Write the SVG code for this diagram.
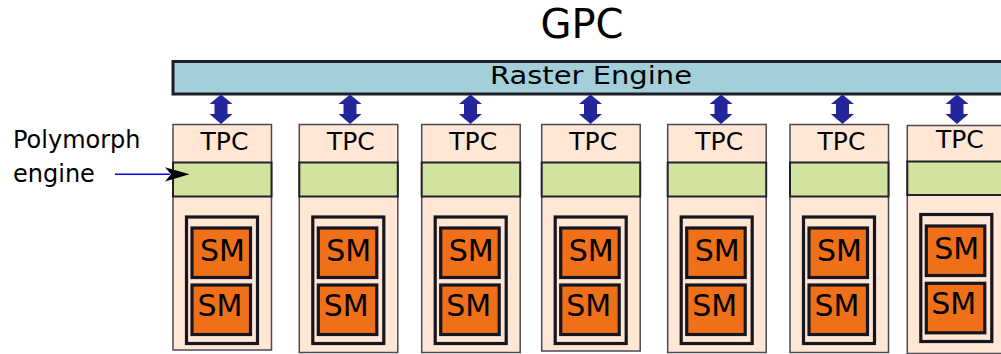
<svg xmlns="http://www.w3.org/2000/svg" xmlns:xlink="http://www.w3.org/1999/xlink" width="1001" height="354" viewBox="0 0 1001 354">
  <style>
    text { font-family: "DejaVu Sans", "Liberation Sans", sans-serif; fill: #000; }
    .title { font-size: 40px; text-anchor: middle; }
    .raster { fill: #a3d0d8; stroke: #1e1e28; stroke-width: 3; }
    .raster-label { font-size: 24px; }
    .tpc { fill: #ffe6d5; stroke: #4a4a56; stroke-width: 1.5; }
    .poly { fill: #d1e39f; stroke: #22222c; stroke-width: 2; }
    .cluster { fill: none; stroke: #16161f; stroke-width: 3.2; }
    .sm { fill: #f07019; stroke: #16161f; stroke-width: 3.2; }
    .tpc-label { font-size: 25px; text-anchor: middle; }
    .sm-label { font-size: 30px; text-anchor: middle; }
    .note { font-size: 24px; }
    .link { fill: #25259b; }
    .pointer { stroke: #0000ff; stroke-width: 1.4; fill: none; }
  </style>
  <defs>
    <!-- double-headed link between the raster engine and a TPC, centred on x=0 -->
    <path id="dlink" class="link" d="M0,94.5 L11.5,104 L6.5,104 L6.5,114 L11.5,114 L0,124 L-11.5,114 L-6.5,114 L-6.5,104 L-11.5,104 Z"/>
  </defs>

  <text id="title" class="title" x="582" y="38">GPC</text>

  <g id="raster-engine">
    <rect class="raster" x="173" y="61.5" width="845" height="32.5"/>
    <text class="raster-label" x="490" y="83.5" textLength="202" lengthAdjust="spacingAndGlyphs">Raster Engine</text>
  </g>

  <g id="polymorph-label">
    <text class="note" x="13" y="148">Polymorph</text>
    <text class="note" x="13" y="182">engine</text>
  </g>

  <g id="tpc1" transform="translate(173,0)">
    <rect class="tpc" x="0" y="124.5" width="98.5" height="225.5"/>
    <rect class="poly" x="0" y="162.5" width="98.5" height="34"/>
    <text class="tpc-label" x="51.5" y="150">TPC</text>
    <rect class="cluster" x="13.5" y="217" width="71" height="126.5"/>
    <rect class="sm" x="19" y="228" width="58.5" height="49.5"/>
    <rect class="sm" x="19" y="285" width="58.5" height="49.5"/>
    <text class="sm-label" x="49.5" y="261">SM</text>
    <text class="sm-label" x="47" y="316">SM</text>
  </g>

  <g id="tpc2" transform="translate(299.3,0)">
    <rect class="tpc" x="0" y="124.5" width="98.5" height="228"/>
    <rect class="poly" x="0" y="162.5" width="98.5" height="34"/>
    <text class="tpc-label" x="51.5" y="150">TPC</text>
    <rect class="cluster" x="13.5" y="217" width="71" height="126.5"/>
    <rect class="sm" x="19" y="228" width="58.5" height="49.5"/>
    <rect class="sm" x="19" y="285" width="58.5" height="49.5"/>
    <text class="sm-label" x="49.5" y="261">SM</text>
    <text class="sm-label" x="47" y="316">SM</text>
  </g>

  <g id="tpc3" transform="translate(421.7,0)">
    <rect class="tpc" x="0" y="124.5" width="98.5" height="228"/>
    <rect class="poly" x="0" y="162.5" width="98.5" height="34"/>
    <text class="tpc-label" x="51.5" y="150">TPC</text>
    <rect class="cluster" x="13.5" y="217" width="71" height="126.5"/>
    <rect class="sm" x="19" y="228" width="58.5" height="49.5"/>
    <rect class="sm" x="19" y="285" width="58.5" height="49.5"/>
    <text class="sm-label" x="49.5" y="261">SM</text>
    <text class="sm-label" x="47" y="316">SM</text>
  </g>

  <g id="tpc4" transform="translate(541.7,0)">
    <rect class="tpc" x="0" y="124.5" width="98.5" height="226.5"/>
    <rect class="poly" x="0" y="162.5" width="98.5" height="34"/>
    <text class="tpc-label" x="51.5" y="150">TPC</text>
    <rect class="cluster" x="13.5" y="217" width="71" height="126.5"/>
    <rect class="sm" x="19" y="228" width="58.5" height="49.5"/>
    <rect class="sm" x="19" y="285" width="58.5" height="49.5"/>
    <text class="sm-label" x="49.5" y="261">SM</text>
    <text class="sm-label" x="47" y="316">SM</text>
  </g>

  <g id="tpc5" transform="translate(667.7,0)">
    <rect class="tpc" x="0" y="124.5" width="98.5" height="228"/>
    <rect class="poly" x="0" y="162.5" width="98.5" height="34"/>
    <text class="tpc-label" x="51.5" y="150">TPC</text>
    <rect class="cluster" x="13.5" y="217" width="71" height="126.5"/>
    <rect class="sm" x="19" y="228" width="58.5" height="49.5"/>
    <rect class="sm" x="19" y="285" width="58.5" height="49.5"/>
    <text class="sm-label" x="49.5" y="261">SM</text>
    <text class="sm-label" x="47" y="316">SM</text>
  </g>

  <g id="tpc6" transform="translate(790,0)">
    <rect class="tpc" x="0" y="124.5" width="98.5" height="228"/>
    <rect class="poly" x="0" y="162.5" width="98.5" height="34"/>
    <text class="tpc-label" x="51.5" y="150">TPC</text>
    <rect class="cluster" x="13.5" y="217" width="71" height="126.5"/>
    <rect class="sm" x="19" y="228" width="58.5" height="49.5"/>
    <rect class="sm" x="19" y="285" width="58.5" height="49.5"/>
    <text class="sm-label" x="49.5" y="261">SM</text>
    <text class="sm-label" x="47" y="316">SM</text>
  </g>

  <g id="tpc7" transform="translate(907.3,0)">
    <rect class="tpc" x="0" y="125.5" width="100" height="228"/>
    <rect class="poly" x="0" y="161.5" width="100" height="33.5"/>
    <text class="tpc-label" x="52.5" y="148.3">TPC</text>
    <rect class="cluster" x="13.5" y="214.5" width="71" height="127"/>
    <rect class="sm" x="19" y="226" width="58.5" height="49.5"/>
    <rect class="sm" x="19" y="283.3" width="58.5" height="49.5"/>
    <text class="sm-label" x="49.4" y="258.5">SM</text>
    <text class="sm-label" x="46.5" y="313.5">SM</text>
  </g>

  <g id="connectors">
    <use xlink:href="#dlink" x="221" y="0"/>
    <use xlink:href="#dlink" x="350" y="0"/>
    <use xlink:href="#dlink" x="470.5" y="0"/>
    <use xlink:href="#dlink" x="590.5" y="0"/>
    <use xlink:href="#dlink" x="721" y="0"/>
    <use xlink:href="#dlink" x="842.5" y="0"/>
    <use xlink:href="#dlink" x="957" y="0"/>
    <line class="pointer" x1="115" y1="174.3" x2="170" y2="174.3"/>
    <path d="M189.5,174.3 L165,167.3 L171,174.3 L165,181.5 Z" fill="#000"/>
  </g>
</svg>
